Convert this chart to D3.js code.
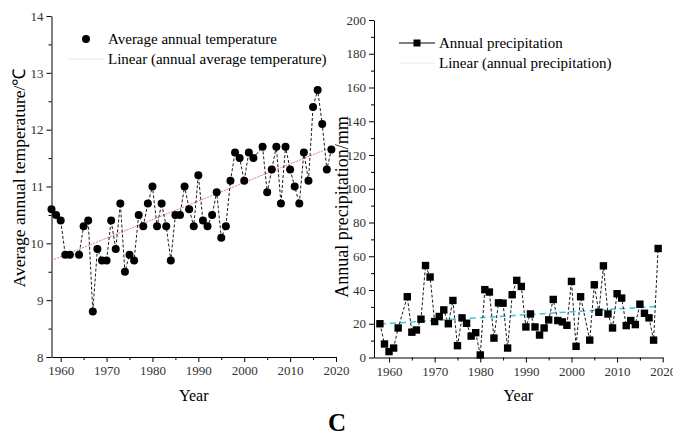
<!DOCTYPE html>
<html>
<head>
<meta charset="utf-8">
<script src="https://cdn.jsdelivr.net/npm/d3@7"></script>
<style>
  body { margin: 0; background: #fff; }
  svg { font-family: "Liberation Serif", "Times New Roman", serif; }
  .axis path, .axis line { stroke: #000; }
  .axis text { font-size: 13px; fill: #333; font-family: "Liberation Serif", serif; }
</style>
</head>
<body>
<div id="chart"></div>
<script>
// years with observations (1963 and 2003 are absent in the figure)
var years = [1958, 1959, 1960, 1961, 1962, 1964, 1965, 1966, 1967, 1968, 1969,
  1970, 1971, 1972, 1973, 1974, 1975, 1976, 1977, 1978, 1979,
  1980, 1981, 1982, 1983, 1984, 1985, 1986, 1987, 1988, 1989,
  1990, 1991, 1992, 1993, 1994, 1995, 1996, 1997, 1998, 1999,
  2000, 2001, 2002, 2004, 2005, 2006, 2007, 2008, 2009,
  2010, 2011, 2012, 2013, 2014, 2015, 2016, 2017, 2018, 2019];

var temperature = [10.6, 10.5, 10.4, 9.8, 9.8, 9.8, 10.3, 10.4, 8.8, 9.9, 9.7,
  9.7, 10.4, 9.9, 10.7, 9.5, 9.8, 9.7, 10.5, 10.3, 10.7,
  11.0, 10.3, 10.7, 10.3, 9.7, 10.5, 10.5, 11.0, 10.6, 10.3,
  11.2, 10.4, 10.3, 10.5, 10.9, 10.1, 10.3, 11.1, 11.6, 11.5,
  11.1, 11.6, 11.5, 11.7, 10.9, 11.3, 11.7, 10.7, 11.7,
  11.3, 11.0, 10.7, 11.6, 11.1, 12.4, 12.7, 12.1, 11.3, 11.65];

var precipitation = [20, 8, 3.5, 5.6, 17.5, 36, 15, 16.3, 22.7, 54.5, 47.7,
  21.3, 24.3, 28.2, 20, 33.8, 7, 23.5, 20.3, 12.7, 14.7,
  1.5, 40.2, 38.8, 11.5, 32.4, 32.2, 5.6, 37.2, 45.7, 42.1,
  18.1, 25.8, 18.1, 13.3, 17.5, 22.3, 34.4, 21.9, 21.1, 19.1,
  45.1, 6.6, 36, 10.3, 43.1, 26.8, 54.3, 25.8, 17.5,
  37.8, 35.2, 18.9, 21.9, 19.5, 31.6, 26.2, 23.5, 10.3, 64.6];

var yearTicks = [1960, 1970, 1980, 1990, 2000, 2010, 2020];
var tempTicks = [8, 9, 10, 11, 12, 13, 14];
var precTicks = [0, 20, 40, 60, 80, 100, 120, 140, 160, 180, 200];

var W = 673, H = 434;
var svg = d3.select("#chart").append("svg")
  .attr("width", W).attr("height", H);

// least squares fit
function fit(xs, ys) {
  var mx = d3.mean(xs), my = d3.mean(ys);
  var num = 0, den = 0;
  xs.forEach(function(x, i) { num += (x - mx) * (ys[i] - my); den += (x - mx) * (x - mx); });
  var b = num / den;
  return function(x) { return my + b * (x - mx); };
}

function drawPanel(opt) {
  var x = d3.scaleLinear().domain(opt.xDomain).range(opt.xRange);
  var y = d3.scaleLinear().domain(opt.yDomain).range(opt.yRange);
  var g = svg.append("g");

  // minor ticks
  var xMinor = d3.range(1965, 2020, 10);
  g.append("g").attr("class", "axis")
    .attr("transform", "translate(0," + opt.yRange[0] + ")")
    .call(d3.axisBottom(x).tickValues(xMinor).tickSize(3).tickFormat(""))
    .select(".domain").remove();
  g.append("g").attr("class", "axis")
    .attr("transform", "translate(" + opt.xRange[0] + ",0)")
    .call(d3.axisLeft(y).tickValues(opt.yMinor).tickSize(3).tickFormat(""))
    .select(".domain").remove();

  // main axes
  g.append("g").attr("class", "axis")
    .attr("transform", "translate(0," + opt.yRange[0] + ")")
    .call(d3.axisBottom(x).tickValues(yearTicks).tickSize(5).tickSizeOuter(0)
      .tickPadding(4).tickFormat(d3.format("d")));
  g.append("g").attr("class", "axis")
    .attr("transform", "translate(" + opt.xRange[0] + ",0)")
    .call(d3.axisLeft(y).tickValues(opt.yTicks).tickSize(5).tickSizeOuter(0)
      .tickPadding(3).tickFormat(d3.format("d")));

  // trend line
  var f = fit(years, opt.values);
  var x0 = years[0], x1 = years[years.length - 1];
  g.append("line")
    .attr("x1", x(x0)).attr("y1", y(f(x0)))
    .attr("x2", x(x1)).attr("y2", y(f(x1)))
    .attr("stroke", opt.trendColor)
    .attr("stroke-width", opt.trendWidth)
    .attr("stroke-dasharray", opt.trendDash);

  // data line
  var line = d3.line()
    .x(function(d, i) { return x(years[i]); })
    .y(function(d) { return y(d); });
  g.append("path").datum(opt.values)
    .attr("d", line)
    .attr("fill", "none")
    .attr("stroke", "#000")
    .attr("stroke-width", 0.9)
    .attr("stroke-dasharray", "3,2");

  // markers
  if (opt.marker === "circle") {
    g.selectAll(".pt").data(opt.values).enter().append("circle")
      .attr("cx", function(d, i) { return x(years[i]); })
      .attr("cy", function(d) { return y(d); })
      .attr("r", 4).attr("fill", "#000");
  } else {
    g.selectAll(".pt").data(opt.values).enter().append("rect")
      .attr("x", function(d, i) { return x(years[i]) - 3.7; })
      .attr("y", function(d) { return y(d) - 3.7; })
      .attr("width", 7.4).attr("height", 7.4).attr("fill", "#000");
  }

  // axis titles
  g.append("text")
    .attr("x", (opt.xRange[0] + opt.xRange[1]) / 2)
    .attr("y", 401)
    .attr("text-anchor", "middle")
    .style("font-size", "16px")
    .text("Year");
  g.append("text")
    .attr("transform", "translate(" + opt.titleX + "," + opt.titleY + ") rotate(-90)")
    .attr("text-anchor", "middle")
    .style("font-size", opt.titleSize)
    .text(opt.yTitle);

  // legend
  var lg = g.append("g");
  if (opt.marker === "circle") {
    lg.append("circle").attr("cx", opt.legX - 22).attr("cy", opt.legY - 4)
      .attr("r", 4).attr("fill", "#000");
  } else {
    lg.append("line").attr("x1", opt.legX - 40).attr("x2", opt.legX - 4)
      .attr("y1", opt.legY - 4).attr("y2", opt.legY - 4)
      .attr("stroke", "#000").attr("stroke-width", 1);
    lg.append("rect").attr("x", opt.legX - 25.5).attr("y", opt.legY - 7.5)
      .attr("width", 7).attr("height", 7).attr("fill", "#000");
  }
  lg.append("line").attr("x1", opt.legX - 40).attr("x2", opt.legX - 4)
    .attr("y1", opt.legY + 16).attr("y2", opt.legY + 16)
    .attr("stroke", "#f2ead8").attr("stroke-width", 1);
  lg.selectAll("text").data(opt.legend).enter().append("text")
    .attr("x", opt.legX)
    .attr("y", function(d, i) { return opt.legY + i * 20 + 1; })
    .style("font-size", "15px")
    .text(function(d) { return d; });
}

drawPanel({
  values: temperature,
  xDomain: [1958, 2020], xRange: [51.5, 336],
  yDomain: [8, 14], yRange: [357, 16],
  yTicks: tempTicks, yMinor: d3.range(8.5, 14, 1),
  marker: "circle",
  trendColor: "#e07b7b", trendWidth: 1, trendDash: "2,1",
  yTitle: "Average annual temperature/\u2103", titleX: 25, titleY: 178, titleSize: "17.5px",
  legX: 108, legY: 43,
  legend: ["Average annual temperature", "Linear (annual average temperature)"]
});

drawPanel({
  values: precipitation,
  xDomain: [1956.7, 2020], xRange: [374, 662.7],
  yDomain: [0, 200], yRange: [357.5, 20],
  yTicks: precTicks, yMinor: d3.range(10, 200, 20),
  marker: "square",
  trendColor: "#3cc6dc", trendWidth: 1.5, trendDash: "6,4",
  yTitle: "Annual precipitation/mm", titleX: 348, titleY: 207, titleSize: "18px",
  legX: 439, legY: 47,
  legend: ["Annual precipitation", "Linear (annual precipitation)"]
});

svg.append("text")
  .attr("x", 337).attr("y", 431)
  .attr("text-anchor", "middle")
  .style("font-size", "25px")
  .style("font-weight", "bold")
  .text("C");
</script>
</body>
</html>
